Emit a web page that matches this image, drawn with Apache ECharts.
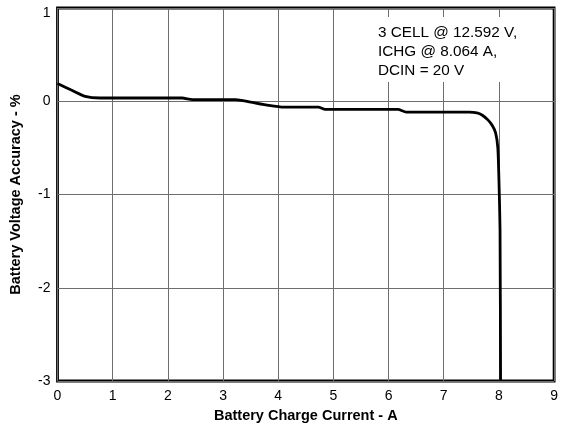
<!DOCTYPE html>
<html>
<head>
<meta charset="utf-8">
<script src="https://cdn.jsdelivr.net/npm/echarts@6/dist/echarts.min.js"></script>
<style>
  html, body { margin: 0; padding: 0; background: #fff; }
  #chart { width: 561px; height: 428px; }
</style>
</head>
<body>
<div id="chart"></div>
<script>
// charge current (A) and voltage accuracy (%)
var currentA = [0, 0.25, 0.5, 0.77, 1.5, 2.26, 2.44, 3.0, 3.23, 3.5, 3.83, 4.1, 4.5, 4.73, 4.85, 5.5,
                6.17, 6.32, 7.0, 7.46, 7.6, 7.7, 7.8, 7.88, 7.94, 7.98, 8.0, 8.02, 8.03];
var accuracy = [0.19, 0.12, 0.053, 0.035, 0.035, 0.035, 0.018, 0.018, 0.018, -0.01, -0.045, -0.064, -0.064, -0.064, -0.088, -0.088,
                -0.088, -0.117, -0.117, -0.117, -0.125, -0.15, -0.2, -0.26, -0.34, -0.5, -0.84, -1.37, -3];
var xTicks = [0, 1, 2, 3, 4, 5, 6, 7, 8, 9];
var yTicks = [-3, -2, -1, 0, 1];
var noteLines = ['3 CELL @ 12.592 V,', 'ICHG @ 8.064 A,', 'DCIN = 20 V'];

var points = currentA.map(function (x, i) { return [x, accuracy[i]]; });
var fontFam = '"Liberation Sans", Arial, sans-serif';
var yMax = yTicks[yTicks.length - 1];

var myChart = echarts.init(document.getElementById('chart'));
myChart.setOption({
  animation: false,
  grid: {
    left: 57.5,
    right: 3.5,
    top: 8,
    bottom: 45,
    show: true,
    borderColor: '#000',
    borderWidth: 2.8
  },
  xAxis: {
    type: 'value',
    min: xTicks[0],
    max: xTicks[xTicks.length - 1],
    interval: 1,
    name: 'Battery Charge Current - A',
    nameLocation: 'middle',
    nameGap: 27,
    nameTextStyle: { fontFamily: fontFam, fontWeight: 'bold', fontSize: 14.5, color: '#000' },
    axisLine: { show: false },
    axisTick: { show: false },
    axisLabel: { fontFamily: fontFam, fontSize: 14, color: '#000', margin: 8 },
    splitLine: { show: true, lineStyle: { color: '#6e6e6e', width: 1 } }
  },
  yAxis: {
    type: 'value',
    min: yTicks[0],
    max: yMax,
    interval: 1,
    name: 'Battery Voltage Accuracy - %',
    nameLocation: 'middle',
    nameGap: 34,
    nameTextStyle: { fontFamily: fontFam, fontWeight: 'bold', fontSize: 14.5, color: '#000' },
    axisLine: { show: false },
    axisTick: { show: false },
    axisLabel: {
      fontFamily: fontFam, fontSize: 14, color: '#000', margin: 7,
      formatter: function (v) { return v === yMax ? '{top|' + v + '}' : String(v); },
      rich: { top: { fontFamily: fontFam, fontSize: 14, color: '#000', padding: [11, 0, 0, 0] } }
    },
    splitLine: { show: true, lineStyle: { color: '#6e6e6e', width: 1 } }
  },
  graphic: [
    {
      type: 'rect',
      shape: { x: 372, y: 17, width: 152, height: 65 },
      style: { fill: '#fff' },
      z: 10
    },
    {
      type: 'text',
      left: 378,
      top: 23,
      z: 11,
      style: {
        text: noteLines.join('\n'),
        fontFamily: fontFam,
        fontSize: 15.3,
        lineHeight: 19,
        fill: '#000'
      }
    }
  ],
  series: [
    {
      type: 'line',
      data: points,
      symbol: 'none',
      smooth: 0.2,
      clip: true,
      lineStyle: { color: '#000', width: 2.8 },
      z: 5
    }
  ]
});
</script>
</body>
</html>
